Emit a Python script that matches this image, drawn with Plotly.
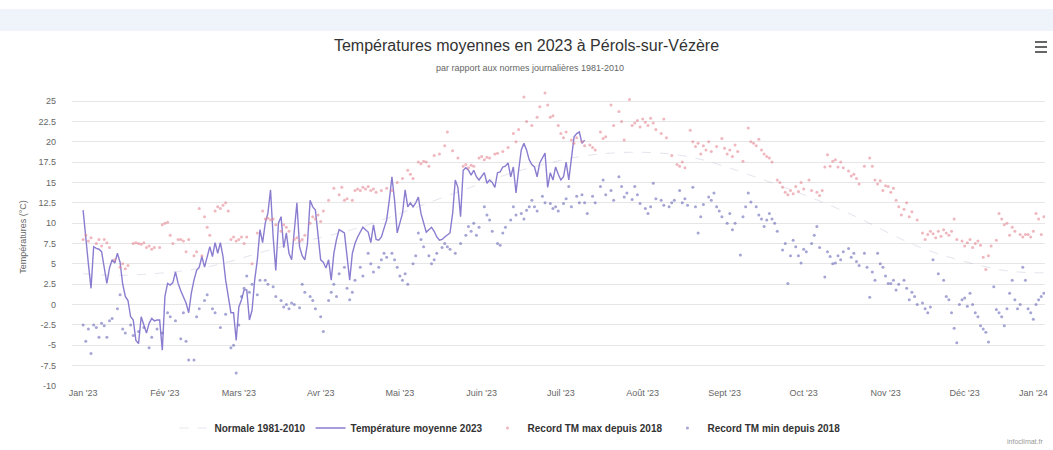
import pandas as pd
import plotly.graph_objects as go

YEAR_START = pd.Timestamp("2023-01-01")

# ---- Data (day offset from 1 Jan 2023, value °C) ----
tm_days = list(range(0, 191))
tm_vals = [11.6, 8.0, 5.0, 2.0, 7.1, 6.9, 6.8, 6.5, 4.6, 2.6,
           4.5, 5.5, 5.1, 6.3, 5.2, 2.5, 1.0, 0.5, -1.5, -1.9,
           -4.4, -4.8, -1.5, -2.5, -3.5, -2.3, -1.7, -2.0, -1.9, -1.9,
           -5.6, 1.0, 2.6, 2.4, 2.7, 4.0, 2.6, 1.7, 1.0, 0.2,
           -1.0, 1.4, 3.0, 4.2, 4.6, 5.9, 4.6, 6.0, 7.1, 5.9,
           7.6, 6.3, 7.6, 5.9, 3.0, 1.0, -1.0, -1.0, -4.4, -0.3,
           0.6, 1.8, 1.8, -1.9, -0.7, 3.0, 5.5, 9.2, 7.6, 10.0,
           11.2, 14.1, 8.3, 4.2, 10.0, 10.8, 7.0, 8.8, 6.3, 5.5,
           9.0, 12.5, 7.1, 6.0, 5.5, 7.5, 12.8, 12.0, 11.6, 8.3,
           5.5, 5.2, 4.5, 5.5, 3.0, 6.3, 8.0, 9.2, 9.0, 8.8,
           5.9, 3.0, 6.3, 7.5, 8.3, 9.0, 9.5, 9.2, 8.9, 7.6,
           9.8, 8.0, 7.9, 8.3, 9.5, 10.4, 12.8, 15.7, 12.8, 8.8,
           10.0, 11.2, 14.1, 12.0, 12.5, 12.0, 12.5, 13.2, 11.2, 10.0,
           8.9, 9.2, 9.5, 9.0, 8.3, 7.9, 8.0, 8.3, 8.5, 8.8,
           11.2, 15.3, 14.4, 10.8, 16.5, 16.8, 16.5, 15.9, 16.5, 15.7,
           15.3, 15.8, 16.2, 14.9, 15.3, 15.0, 14.4, 16.2, 16.3, 16.9,
           17.0, 17.4, 15.7, 16.9, 13.7, 16.5, 19.0, 19.8, 19.0, 17.8,
           17.2, 16.9, 15.7, 17.4, 18.0, 18.6, 14.4, 16.2, 15.3, 16.9,
           16.0, 15.3, 15.7, 17.5, 15.3, 18.1, 20.6, 21.0, 21.2, 19.8,
           20.2]

rmax_days = [0, 1, 2, 3, 5, 6, 7, 8, 9, 10, 12, 14, 15, 16, 17, 19, 20, 21, 22, 23,
             24, 25, 26, 27, 29, 30, 31, 32, 33, 34, 36, 37, 38, 39, 40, 42, 43, 44, 45, 46,
             47, 48, 50, 51, 52, 53, 54, 55, 56, 57, 58, 59, 60, 61, 62, 64, 66, 68, 69, 70,
             71, 72, 73, 75, 76, 77, 78, 80, 81, 82, 83, 84, 86, 87, 88, 89, 90, 91, 93, 95,
             97, 98, 99, 100, 102, 103, 104, 105, 106, 107, 108, 109, 110, 111, 113, 115, 117, 119, 121, 123,
             124, 125, 127, 128, 129, 130, 131, 133, 135, 137, 138, 140, 142, 144, 145, 146, 147, 148, 150, 151,
             152, 153, 154, 156, 157, 159, 161, 163, 164, 165, 167, 168, 170, 172, 173, 175, 176, 177, 178, 180,
             181, 182, 183, 185, 186, 187, 189, 190, 192, 193, 194, 196, 197, 198, 200, 201, 203, 204, 205, 207,
             208, 209, 210, 211, 212, 213, 214, 215, 216, 217, 219, 220, 221, 223, 225, 226, 227, 228, 230, 231,
             232, 233, 234, 235, 236, 237, 238, 240, 242, 243, 244, 245, 246, 247, 248, 250, 252, 253, 254, 255,
             256, 257, 258, 259, 260, 261, 263, 264, 265, 266, 267, 268, 269, 270, 271, 272, 273, 275, 276, 278,
             279, 280, 281, 282, 283, 284, 285, 286, 287, 288, 290, 291, 292, 293, 294, 296, 298, 299, 300, 301,
             302, 303, 304, 305, 306, 307, 308, 309, 310, 311, 312, 313, 314, 316, 318, 319, 320, 321, 322, 323,
             324, 325, 326, 327, 328, 329, 330, 331, 333, 334, 335, 336, 337, 338, 339, 340, 341, 342, 343, 344,
             346, 347, 348, 349, 350, 351, 352, 353, 355, 356, 357, 358, 359, 360, 361, 362, 363, 364]
rmax_vals = [8.0, 8.5, 7.8, 8.2, 7.5, 8.0, 7.2, 8.0, 7.6, 7.0, 5.5, 4.6, 5.0, 4.4, 4.8, 7.5, 7.6, 7.5, 7.4, 7.6,
             7.0, 7.2, 6.8, 7.0, 7.0, 9.8, 10.0, 10.1, 8.5, 7.5, 8.0, 8.0, 7.8, 6.5, 8.0, 6.0, 6.5, 11.8, 6.0, 10.8,
             9.5, 8.5, 11.5, 12.0, 11.8, 12.2, 12.5, 11.5, 8.0, 8.3, 7.8, 8.0, 8.3, 7.5, 8.3, 5.0, 8.8, 11.5, 10.5, 10.6,
             10.4, 10.5, 9.8, 9.0, 9.8, 9.5, 9.0, 8.0, 8.2, 7.8, 8.0, 8.5, 10.0, 10.8, 10.5, 11.0, 10.2, 11.5, 12.8, 14.3,
             13.5, 14.4, 12.8, 13.0, 12.8, 14.0, 14.2, 14.0, 14.4, 14.2, 14.5, 14.0, 14.2, 13.8, 14.0, 14.3, 14.0, 15.0, 15.5, 16.5,
             16.0, 15.5, 17.5, 17.3, 17.6, 17.5, 17.0, 18.3, 18.5, 19.5, 21.2, 18.9, 18.0, 17.0, 17.2, 16.8, 17.1, 17.0, 18.0, 18.2,
             17.8, 18.1, 18.0, 18.5, 18.6, 18.8, 19.3, 21.0, 20.0, 21.5, 25.5, 22.5, 22.0, 23.0, 24.3, 26.0, 24.5, 23.0, 23.2, 22.0,
             21.0, 20.5, 21.2, 20.2, 19.8, 20.5, 20.0, 19.5, 19.6, 19.3, 19.0, 21.2, 20.4, 20.6, 24.5, 22.0, 23.7, 22.5, 20.2, 25.2,
             22.0, 22.3, 22.6, 21.8, 22.8, 22.4, 22.0, 22.9, 22.3, 21.5, 21.0, 22.8, 20.5, 18.3, 17.2, 17.0, 17.5, 16.8, 21.4, 20.0,
             19.4, 19.8, 18.5, 19.5, 19.0, 20.0, 18.8, 19.4, 20.4, 19.2, 18.5, 19.0, 18.2, 19.6, 18.8, 17.6, 21.7, 20.0, 19.8, 19.5,
             20.3, 19.0, 18.5, 18.2, 18.0, 17.5, 15.3, 15.0, 14.4, 13.8, 13.5, 14.0, 13.6, 14.5, 13.9, 15.0, 14.2, 15.3, 14.0, 13.8,
             13.4, 14.0, 16.9, 18.4, 17.0, 17.6, 17.8, 16.9, 17.5, 16.8, 16.4, 15.8, 16.0, 15.5, 14.8, 17.0, 18.0, 17.0, 15.3, 14.8,
             15.2, 14.0, 14.6, 14.5, 13.8, 14.3, 12.8, 12.0, 11.0, 11.7, 12.5, 10.8, 11.4, 10.4, 8.8, 8.0, 8.6, 9.0, 8.7, 8.2,
             9.0, 8.4, 9.2, 8.8, 8.5, 9.0, 10.5, 8.0, 7.8, 7.2, 7.6, 8.0, 7.0, 7.5, 7.8, 7.3, 5.8, 4.3, 6.0, 7.2,
             7.9, 11.2, 10.5, 9.8, 10.0, 8.5, 9.5, 9.0, 8.6, 8.3, 8.6, 8.6, 8.3, 9.0, 11.2, 10.5, 8.6, 10.8]

rmin_days = [0, 1, 2, 3, 4, 5, 6, 7, 8, 9, 10, 11, 13, 14, 15, 16, 18, 19, 21, 23,
             25, 26, 28, 30, 32, 33, 35, 37, 38, 39, 40, 42, 43, 44, 46, 47, 49, 50, 52, 54,
             56, 57, 58, 59, 60, 61, 62, 63, 64, 66, 67, 69, 70, 72, 73, 75, 76, 77, 78, 79,
             80, 82, 83, 84, 86, 87, 88, 90, 91, 93, 94, 95, 96, 97, 99, 100, 101, 102, 103, 105,
             106, 108, 109, 110, 112, 113, 114, 115, 117, 118, 119, 120, 121, 122, 123, 125, 126, 127, 128, 129,
             131, 132, 133, 134, 136, 137, 138, 139, 141, 143, 145, 146, 147, 148, 149, 150, 152, 153, 154, 155,
             157, 158, 159, 160, 162, 163, 164, 166, 167, 168, 169, 170, 171, 172, 174, 175, 177, 178, 179, 180,
             182, 183, 184, 185, 187, 188, 189, 190, 191, 193, 194, 196, 197, 198, 200, 201, 203, 204, 205, 206,
             208, 209, 210, 211, 213, 214, 215, 216, 217, 219, 220, 222, 223, 224, 226, 227, 228, 229, 231, 232,
             233, 234, 235, 237, 238, 239, 240, 241, 242, 244, 245, 246, 247, 249, 250, 251, 252, 253, 255, 256,
             257, 258, 259, 260, 261, 262, 263, 265, 266, 267, 268, 269, 270, 271, 272, 273, 274, 276, 277, 278,
             279, 281, 282, 283, 284, 285, 286, 287, 288, 290, 291, 292, 293, 294, 296, 297, 298, 299, 300, 301,
             302, 303, 304, 305, 306, 307, 308, 309, 311, 312, 313, 314, 315, 316, 318, 319, 320, 321, 322, 324,
             326, 327, 328, 329, 330, 331, 332, 333, 334, 335, 336, 337, 338, 339, 340, 341, 342, 343, 345, 346,
             347, 348, 349, 350, 351, 352, 353, 354, 355, 356, 357, 358, 359, 360, 361, 362, 363, 364]
rmin_vals = [-2.5, -4.5, -3.0, -6.0, -2.5, -2.8, -4.0, -2.3, -2.6, -4.0, -2.0, -1.7, -0.5, 1.2, -3.0, -3.5, -2.5, -3.8, -3.3, -2.8,
             -5.3, -4.0, -3.0, -3.5, -1.0, -1.5, -2.0, -4.2, -1.0, -4.5, -6.8, -6.8, -1.5, -0.5, 0.5, 1.2, -0.5, -1.0, -2.8, -1.2,
             -5.3, -5.0, -8.4, -2.5, 1.0, 2.0, 3.5, 1.5, 2.5, 1.2, 3.0, 3.0, 2.5, 2.2, 1.0, 0.5, -0.3, 0.0, -0.5, 0.2,
             0.0, -0.4, 2.5, 1.5, 1.0, 0.5, -0.5, -1.5, -3.3, 0.5, 1.5, 2.5, 1.0, 3.8, 4.6, 2.0, 0.6, 1.5, 3.0, 4.6,
             3.5, 6.3, 5.0, 4.0, 4.6, 5.5, 6.3, 5.8, 6.3, 5.5, 4.6, 3.5, 3.0, 3.8, 2.5, 5.0, 6.0, 8.8, 8.0, 7.1,
             6.0, 5.0, 5.5, 6.3, 7.0, 7.5, 7.1, 6.8, 6.3, 7.5, 8.5, 9.6, 9.0, 10.0, 8.5, 9.5, 12.0, 11.0, 10.4, 9.0,
             7.5, 7.3, 8.8, 9.5, 10.4, 12.0, 11.0, 11.2, 10.5, 11.6, 12.0, 12.8, 12.0, 11.5, 13.3, 12.5, 12.4, 11.8, 12.0, 11.5,
             12.4, 13.0, 14.5, 12.0, 13.3, 12.5, 13.5, 12.5, 11.2, 13.3, 12.5, 14.5, 15.3, 13.5, 14.0, 12.8, 15.7, 14.5, 13.2, 13.7,
             12.9, 14.5, 13.5, 12.4, 11.8, 11.2, 12.0, 14.9, 13.0, 12.8, 12.2, 12.0, 12.5, 12.8, 14.0, 12.5, 13.0, 12.2, 14.4, 12.0,
             8.8, 10.8, 12.3, 13.2, 12.8, 13.7, 12.0, 11.5, 10.8, 10.0, 11.2, 9.2, 10.0, 6.1, 10.8, 12.0, 13.7, 12.6, 12.0, 11.0,
             10.5, 9.6, 10.4, 11.2, 10.5, 10.0, 9.0, 6.7, 7.5, 2.6, 6.0, 7.9, 7.1, 6.0, 5.1, 6.8, 6.5, 7.5, 8.5, 9.6,
             7.0, 3.4, 6.5, 5.9, 5.0, 5.1, 6.0, 5.5, 6.5, 6.9, 5.8, 6.3, 5.3, 4.8, 6.3, 4.6, 0.9, 4.0, 3.0, 6.3,
             5.0, 4.6, 3.5, 2.6, 2.6, 3.0, 1.8, 2.5, 3.0, 2.0, 0.6, 1.5, 1.0, 0.0, 0.2, -0.5, -1.0, -0.3, 5.5, 3.8,
             3.0, 1.0, 0.6, -1.0, -2.9, -4.7, 0.0, 0.6, 0.8, -0.2, 1.4, 0.0, -1.0, -1.5, -2.6, -3.0, -3.4, -4.6, 2.2, -0.6,
             -1.0, -1.5, -2.6, -0.5, 1.4, 3.0, 0.6, -0.5, 0.0, 4.6, 3.0, -0.5, -1.0, -1.8, 0.0, 0.6, 1.0, 1.4]

norm_days = [0, 15, 45, 74, 105, 135, 166, 196, 227, 258, 288, 319, 349, 364]
norm_vals = [3.8, 3.6, 4.5, 7.0, 9.5, 13.0, 16.5, 18.5, 18.3, 15.3, 11.5, 6.8, 4.2, 3.9]

month_ticks = ["Jan '23", "Fév '23", "Mars '23", "Avr '23", "Mai '23", "Juin '23",
               "Juil '23", "Août '23", "Sept '23", "Oct '23", "Nov '23", "Déc '23"]
last_tick = "Jan '24"
y_ticks = [-10, -7.5, -5, -2.5, 0, 2.5, 5, 7.5, 10, 12.5, 15, 17.5, 20, 22.5, 25]


def to_dates(days):
    return [YEAR_START + pd.Timedelta(days=d) for d in days]


tick_dates = pd.date_range("2023-01-01", periods=12, freq="MS")

FONT = "Liberation Sans, Arial, sans-serif"

# plot area in pixels: left 72, right 1045, top 88, bottom 386
PL, PR, PT, PB = 72, 1045, 88, 386
PW, PH = PR - PL, PB - PT


def px(x):
    return (x - PL) / PW


def py(y):
    return (PB - y) / PH


fig = go.Figure()
fig.add_trace(go.Scatter(
    x=to_dates(norm_days), y=norm_vals, name="Normale 1981-2010",
    mode="lines", line=dict(color="rgba(120,120,170,0.2)", width=1, dash="dash", shape="spline"),
))
fig.add_trace(go.Scatter(
    x=to_dates(tm_days), y=tm_vals, name="Température moyenne 2023",
    mode="lines", line=dict(color="#8a7dd0", width=1.4),
))
fig.add_trace(go.Scatter(
    x=to_dates(rmax_days), y=rmax_vals, name="Record TM max depuis 2018",
    mode="markers", marker=dict(color="rgba(228,135,145,0.6)", size=3),
))
fig.add_trace(go.Scatter(
    x=to_dates(rmin_days), y=rmin_vals, name="Record TM min depuis 2018",
    mode="markers", marker=dict(color="rgba(105,105,185,0.6)", size=3),
))

hamburger = [dict(type="line", xref="paper", yref="paper", x0=px(1035), x1=px(1047),
                  y0=py(yy), y1=py(yy), line=dict(color="#666666", width=2))
             for yy in (42, 47, 52)]

fig.update_layout(
    width=1053, height=450,
    margin=dict(l=PL, r=1053 - PR, t=PT, b=450 - PB, autoexpand=False),
    paper_bgcolor="white", plot_bgcolor="white",
    font=dict(family=FONT, color="#666666", size=9),
    title=dict(text="Températures moyennes en 2023 à Pérols-sur-Vézère",
               x=0.5, xref="container", xanchor="center",
               y=1 - 45 / 450, yref="container", yanchor="middle",
               font=dict(size=16, color="#333333", family=FONT)),
    showlegend=True,
    legend=dict(orientation="h", x=px(510), xanchor="center", y=py(428), yanchor="middle",
                font=dict(size=10, color="#333333", family=FONT, weight="bold"),
                itemwidth=30, tracegroupgap=0),
    xaxis=dict(type="date", automargin=False,
               range=[pd.Timestamp("2022-12-27 19:00"), pd.Timestamp("2023-12-31 10:00")],
               tickvals=list(tick_dates), ticktext=month_ticks,
               showgrid=False, zeroline=False, showline=False, ticks="",
               tickfont=dict(size=9, color="#666666")),
    yaxis=dict(range=[-10, 26.6], tickvals=y_ticks, automargin=False,
               ticktext=[f"{v:g}" for v in y_ticks],
               showgrid=True, gridcolor="#e6e6e6", gridwidth=1, zeroline=False,
               ticks="", ticklabelstandoff=15,
               tickfont=dict(size=9, color="#666666"),
               title=dict(text="Températures (°C)", standoff=10,
                          font=dict(size=9, color="#666666"))),
    annotations=[
        dict(text="par rapport aux normes journalières 1981-2010", xref="paper", yref="paper",
             x=px(530), y=py(68), showarrow=False, xanchor="center", yanchor="middle",
             font=dict(size=9, color="#666666")),
        dict(text=last_tick, xref="paper", yref="paper", x=px(1033),
             y=py(393), yanchor="middle", xanchor="center", showarrow=False,
             font=dict(size=9, color="#666666")),
        dict(text="infoclimat.fr", xref="paper", yref="paper", x=1, y=py(441),
             xanchor="right", yanchor="middle", showarrow=False,
             font=dict(size=7, color="#999999")),
    ],
    shapes=[
        dict(type="rect", xref="paper", yref="paper", x0=px(0), x1=px(1053),
             y0=py(31), y1=py(9),
             fillcolor="#eef4fa", line=dict(width=0), layer="below"),
    ] + hamburger,
)

fig.write_html("out.html", config={"displayModeBar": False},
               post_script="document.body.style.margin='0';document.body.style.overflow='hidden';")
